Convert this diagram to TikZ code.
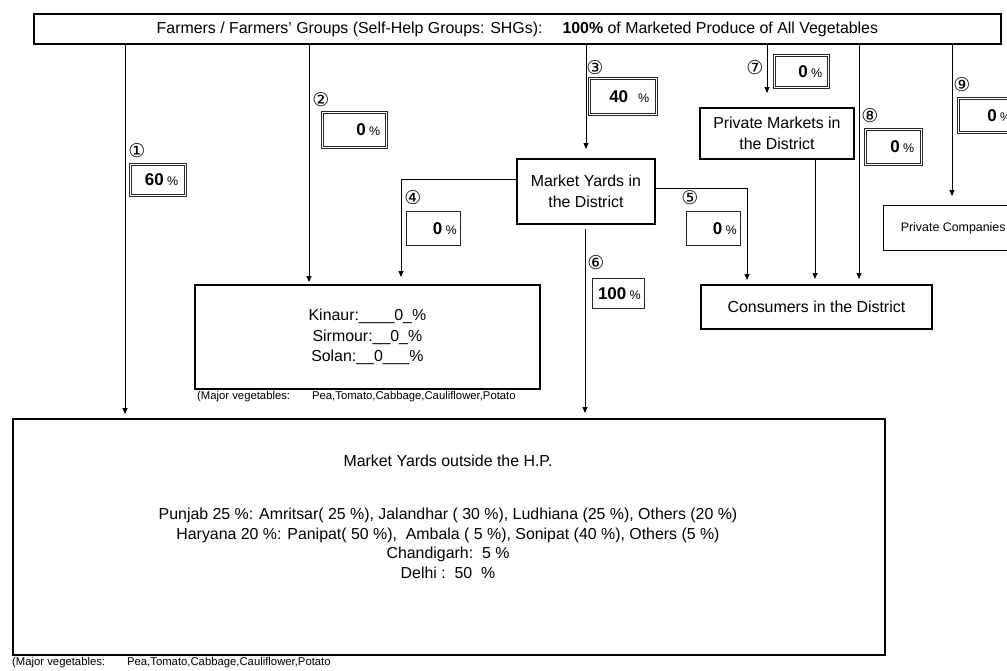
\documentclass[tikz,border=0pt]{standalone}
\usepackage{fontspec}
\setmainfont{Liberation Sans}
\newfontfamily\circfont{DejaVu Sans}
\usetikzlibrary{arrows.meta}
\begin{document}
\begin{tikzpicture}[x=1pt,y=-1pt,
  txt/.style={font=\fontsize{15.9}{20.5}\selectfont, inner sep=0pt},
  bigbox/.style={draw, line width=1.8pt, rectangle, inner sep=0pt, align=center, font=\fontsize{15.9}{20.5}\selectfont},
  dbox/.style={draw=black!85, double, double distance=1.3pt, line width=0.6pt, rectangle, inner sep=0pt, align=right},
  sbox/.style={draw=black!85, line width=0.7pt, rectangle, inner sep=0pt, align=right},
  circ/.style={font=\circfont\fontsize{19}{19}\selectfont, inner sep=0pt},
  note/.style={font=\fontsize{11.3}{13}\selectfont, inner sep=0pt, anchor=west},
  conn/.style={line width=0.8pt},
  arr/.style={line width=0.8pt, -{Triangle[length=6pt,width=5pt]}}
]
\newcommand{\pct}[2]{{\fontsize{17}{18}\selectfont\bfseries #1}#2{\fontsize{12.5}{13}\selectfont\%}}
\useasboundingbox (0,0) rectangle (1007,670);
\fill[white] (0,0) rectangle (1007,670);

% main boxes
\node[bigbox, minimum width=967, minimum height=30, anchor=north west] (top) at (33,13)
  {Farmers / Farmers' Groups (Self-Help Groups: SHGs):\hspace{20pt}\textbf{100\%} of Marketed Produce of All Vegetables};
\node[bigbox, minimum width=138, minimum height=65, anchor=north west] (my) at (516,158)
  {Market Yards in\\the District};
\node[bigbox, minimum width=154, minimum height=51, anchor=north west] (pm) at (699,107)
  {Private Markets in\\the District};
\node[bigbox, minimum width=231, minimum height=44, anchor=north west] (cons) at (700,284)
  {Consumers in the District};
\node[bigbox, line width=1.4pt, minimum width=139, minimum height=45, anchor=north west,
  font=\fontsize{12.4}{15}\selectfont] (pc) at (883,205) {Private Companies};
\node[bigbox, minimum width=345, minimum height=104, anchor=north west] (kin) at (194,284)
  {Kinaur:\_\_\_\_0\_\%\\Sirmour:\_\_0\_\%\\Solan:\_\_0\_\_\_\%};
\node[bigbox, minimum width=872, minimum height=236, anchor=north west] (bot) at (12,418) {};
\node[txt, align=center, anchor=north, font=\fontsize{15.9}{19.7}\selectfont] (bottxt) at (448,455)
  {Market Yards outside the H.P.\\[33pt]
   Punjab 25 \%: Amritsar( 25 \%), Jalandhar ( 30 \%), Ludhiana (25 \%), Others (20 \%)\\
   Haryana 20 \%: Panipat( 50 \%),\ \ Ambala ( 5 \%), Sonipat (40 \%), Others (5 \%)\\
   Chandigarh:\ \ 5 \%\\
   Delhi :\ \ 50\ \ \%};

% notes
\node[note] (n1) at (197,397) {(Major vegetables:\hspace{22pt}Pea,Tomato,Cabbage,Cauliflower,Potato};
\node[note] (n2) at (12,663) {(Major vegetables:\hspace{22pt}Pea,Tomato,Cabbage,Cauliflower,Potato};

% percent boxes
\node[dbox, minimum width=55, minimum height=31, text width=41pt, anchor=north west] (p1) at (130,164) {\pct{60}{\ }};
\node[dbox, minimum width=64, minimum height=35, text width=52pt, anchor=north west] (p2) at (322,112) {\pct{0}{\ }};
\node[dbox, minimum width=67, minimum height=36, text width=53pt, anchor=north west] (p3) at (589,78) {\pct{40}{\ \ \ }};
\node[dbox, minimum width=54, minimum height=32, text width=42pt, anchor=north west] (p7) at (774,55) {\pct{0}{\ }};
\node[dbox, minimum width=56, minimum height=35, text width=42pt, anchor=north west] (p8) at (865,129) {\pct{0}{\ }};
\node[dbox, minimum width=60, minimum height=34, text width=46pt, anchor=north west] (p9) at (958,98) {\pct{0}{\ }};
\node[sbox, minimum width=54, minimum height=34, text width=47pt, anchor=north west] (p4) at (406,211) {\pct{0}{\ }};
\node[sbox, minimum width=54, minimum height=34, text width=47pt, anchor=north west] (p5) at (686,211) {\pct{0}{\ }};
\node[sbox, minimum width=52, minimum height=30, text width=45pt, anchor=north west] (p6) at (592,278) {\pct{100}{\ }};

% circled numbers
\node[circ] (c1) at (137,151) {①};
\node[circ] (c2) at (321,100) {②};
\node[circ] (c3) at (595,68) {③};
\node[circ] (c4) at (413,198) {④};
\node[circ] (c5) at (690,198) {⑤};
\node[circ] (c6) at (596,263) {⑥};
\node[circ] (c7) at (755,68) {⑦};
\node[circ] (c8) at (870,116) {⑧};
\node[circ] (c9) at (962,85) {⑨};

% helper coordinates for connector columns / rows
\coordinate (x1) at (125,0);
\coordinate (x2) at (309,0);
\coordinate (x3) at (586,0);
\coordinate (x7) at (767,0);
\coordinate (x8) at (859,0);
\coordinate (x9) at (952,0);
\coordinate (r4) at (401,179);
\coordinate (r5) at (747,188);
\coordinate (x6) at (585,0);
\coordinate (xpm) at (815,0);

% connectors
\draw[arr, shorten >=4pt] (top.south -| x1) -- (bot.north -| x1);
\draw[arr, shorten >=2pt] (top.south -| x2) -- (kin.north -| x2);
\draw[arr, shorten >=9pt] (top.south -| x3) -- (my.north -| x3);
\draw[arr, shorten >=14pt] (top.south -| x7) -- (pm.north -| x7);
\draw[arr, shorten >=5pt] (top.south -| x8) -- (cons.north -| x8);
\draw[arr, shorten >=9pt] (top.south -| x9) -- (pc.north -| x9);
\draw[arr, shorten >=7pt] (my.west |- r4) -| (kin.north -| r4);
\draw[arr, shorten >=4pt] (my.east |- r5) -| (cons.north -| r5);
\draw[arr, shorten <=4pt, shorten >=5pt] (my.south -| x6) -- (bot.north -| x6);
\draw[arr, shorten >=5pt] (pm.south -| xpm) -- (cons.north -| xpm);
\end{tikzpicture}
\end{document}
